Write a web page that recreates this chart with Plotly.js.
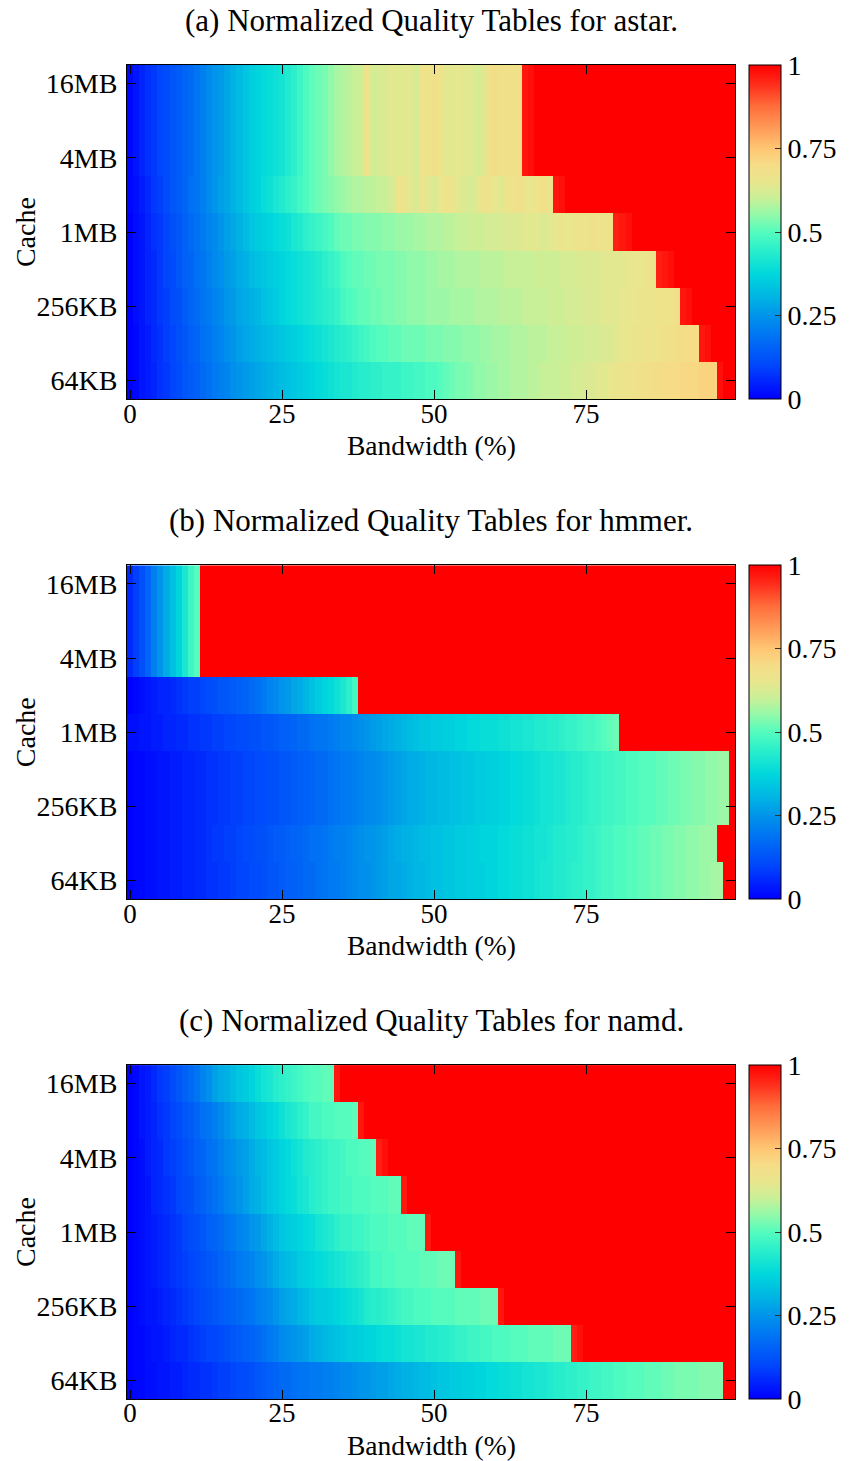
<!DOCTYPE html>
<html>
<head>
<meta charset="utf-8">
<script src="https://cdn.plot.ly/plotly-3.0.1.min.js"></script>
<style>html,body{margin:0;padding:0;background:#fff;}#chart{width:849px;height:1461px;}</style>
</head>
<body>
<div id="chart"></div>
<script>
// ---------- axes / categories ----------
const cacheSizes = ['64KB','128KB','256KB','512KB','1MB','2MB','4MB','8MB','16MB'];
const cacheTicks = ['64KB','256KB','1MB','4MB','16MB'];
const bandwidthPct = [0,1,2,3,4,5,6,7,8,9,10,11,12,13,14,15,16,17,18,19,20,21,22,23,24,25,26,27,28,29,30,31,32,33,34,35,36,37,38,39,40,41,42,43,44,45,46,47,48,49,50,51,52,53,54,55,56,57,58,59,60,61,62,63,64,65,66,67,68,69,70,71,72,73,74,75,76,77,78,79,80,81,82,83,84,85,86,87,88,89,90,91,92,93,94,95,96,97,98,99];
const bwTicks = [0,25,50,75];
const cbTickVals = [0,0.25,0.5,0.75,1];
const cbTickText = ['0','0.25','0.5','0.75','1'];
const panelTitles = ['(a) Normalized Quality Tables for astar.','(b) Normalized Quality Tables for hmmer.','(c) Normalized Quality Tables for namd.'];
const xTitle = 'Bandwidth (%)';
const yTitle = 'Cache';

// ---------- (a) astar : normalized quality in percent, one array per cache size ----------
const astar16MB = [1,3,5,7,8,10,11,13,14,16, 17,19,21,23,25,26,28,30,32,34, 36,37,38,39,40,41,43,45,47,49, 51,52,53,55,57,58,59,60,61,67, 62,62,63,64,64,64,64,62,67,67, 68,67,64,64,65,64,64,62,63,68, 69,68,68,68,68,97,98,100,100,100, 100,100,100,100,100,100,100,100,100,100, 100,100,100,100,100,100,100,100,100,100, 100,100,100,100,100,100,100,100,100,100];
const astar8MB = [1,3,5,7,8,10,11,13,14,16, 17,19,21,23,25,26,28,30,32,34, 36,37,38,39,40,41,43,45,47,49, 51,52,53,55,57,58,59,60,61,67, 62,62,63,64,64,64,64,62,67,67, 68,67,64,64,65,64,64,62,63,68, 69,68,68,68,68,97,98,100,100,100, 100,100,100,100,100,100,100,100,100,100, 100,100,100,100,100,100,100,100,100,100, 100,100,100,100,100,100,100,100,100,100];
const astar4MB = [1,3,5,7,8,10,11,13,14,16, 17,19,21,23,25,26,28,30,32,34, 36,37,38,39,40,41,43,45,47,49, 51,52,53,55,57,58,59,60,61,67, 62,62,63,64,64,64,64,62,67,67, 68,67,64,64,65,64,64,62,63,68, 69,68,68,68,68,97,98,100,100,100, 100,100,100,100,100,100,100,100,100,100, 100,100,100,100,100,100,100,100,100,100, 100,100,100,100,100,100,100,100,100,100];
const astar2MB = [1,2,4,6,8,9,11,13,14,16, 18,19,21,23,25,27,28,30,32,34, 36,37,39,40,42,43,45,46,48,49, 51,52,53,54,55,56,57,58,58,59, 59,60,60,62,67,66,64,63,66,64, 63,65,67,66,64,63,62,64,66,67, 65,64,66,67,68,66,65,67,68,66, 97,98,100,100,100,100,100,100,100,100, 100,100,100,100,100,100,100,100,100,100, 100,100,100,100,100,100,100,100,100,100];
const astar1MB = [0,2,3,5,7,8,10,12,13,15, 17,18,20,22,23,25,27,28,30,32, 34,35,36,37,38,39,40,42,43,45, 46,47,48,49,51,52,52,53,53,54, 54,54,55,55,56,56,56,57,57,58, 58,58,59,59,60,60,61,61,61,62, 62,62,63,63,63,64,64,64,63,64, 65,66,65,66,67,66,68,67,66,67, 96,97,98,100,100,100,100,100,100,100, 100,100,100,100,100,100,100,100,100,100];
const astar512KB = [0,2,3,5,6,8,10,11,13,15, 16,18,19,21,23,24,26,27,29,30, 32,33,34,35,36,37,38,39,40,41, 42,43,45,46,47,49,50,51,51,52, 52,53,53,53,54,54,55,55,55,56, 56,57,57,57,58,58,58,58,59,59, 59,59,60,60,60,60,60,61,61,61, 61,62,62,62,63,63,63,63,64,64, 64,64,65,65,65,66,66,96,97,98, 100,100,100,100,100,100,100,100,100,100];
const astar256KB = [0,2,3,5,6,8,9,11,12,14, 16,17,19,20,22,23,25,26,28,29, 30,31,33,34,35,37,38,39,40,41, 42,43,44,45,46,48,49,50,51,51, 52,52,53,53,54,54,55,55,55,56, 56,56,56,57,57,57,57,58,58,58, 58,59,59,59,59,60,60,60,60,61, 61,61,62,62,62,63,63,63,64,64, 64,65,65,65,66,66,66,67,67,67, 68,97,98,100,100,100,100,100,100,100];
const astar128KB = [0,1,3,4,6,7,9,10,12,13, 15,16,18,19,21,22,24,25,27,28, 29,30,31,32,33,34,35,36,37,38, 39,40,41,42,43,44,45,46,47,48, 49,50,50,51,51,52,52,52,52,53, 53,53,54,54,54,55,55,55,56,56, 57,57,57,58,58,58,59,59,59,60, 60,60,61,61,61,62,62,62,63,63, 64,65,65,66,66,67,66,67,68,68, 69,69,70,70,97,98,100,100,100,100];
const astar64KB = [0,1,3,4,5,7,8,10,11,13, 14,15,17,18,20,21,22,24,25,26, 27,28,29,30,31,32,33,34,35,36, 37,38,39,40,41,42,42,43,44,44, 45,45,46,46,46,47,47,48,48,49, 49,50,51,52,53,53,54,55,55,56, 56,57,57,58,58,58,59,59,60,60, 60,61,61,62,62,63,63,64,64,65, 66,66,67,67,68,68,69,69,70,70, 70,71,71,71,72,72,72,98,100,100];

// ---------- (b) hmmer ----------
const hmmer16MB = [6,9,12,16,21,25,29,33,37,42, 47,50,100,100,100,100,100,100,100,100, 100,100,100,100,100,100,100,100,100,100, 100,100,100,100,100,100,100,100,100,100, 100,100,100,100,100,100,100,100,100,100, 100,100,100,100,100,100,100,100,100,100, 100,100,100,100,100,100,100,100,100,100, 100,100,100,100,100,100,100,100,100,100, 100,100,100,100,100,100,100,100,100,100, 100,100,100,100,100,100,100,100,100,100];
const hmmer8MB = [6,9,12,16,21,25,29,33,37,42, 47,50,100,100,100,100,100,100,100,100, 100,100,100,100,100,100,100,100,100,100, 100,100,100,100,100,100,100,100,100,100, 100,100,100,100,100,100,100,100,100,100, 100,100,100,100,100,100,100,100,100,100, 100,100,100,100,100,100,100,100,100,100, 100,100,100,100,100,100,100,100,100,100, 100,100,100,100,100,100,100,100,100,100, 100,100,100,100,100,100,100,100,100,100];
const hmmer4MB = [6,9,12,16,21,25,29,33,37,42, 47,50,100,100,100,100,100,100,100,100, 100,100,100,100,100,100,100,100,100,100, 100,100,100,100,100,100,100,100,100,100, 100,100,100,100,100,100,100,100,100,100, 100,100,100,100,100,100,100,100,100,100, 100,100,100,100,100,100,100,100,100,100, 100,100,100,100,100,100,100,100,100,100, 100,100,100,100,100,100,100,100,100,100, 100,100,100,100,100,100,100,100,100,100];
const hmmer2MB = [0,1,2,3,4,5,5,6,7,8, 9,9,10,11,12,13,13,14,15,16, 17,18,20,22,23,25,26,28,29,31, 33,35,37,38,40,42,45,48,100,100, 100,100,100,100,100,100,100,100,100,100, 100,100,100,100,100,100,100,100,100,100, 100,100,100,100,100,100,100,100,100,100, 100,100,100,100,100,100,100,100,100,100, 100,100,100,100,100,100,100,100,100,100, 100,100,100,100,100,100,100,100,100,100];
const hmmer1MB = [2,2,3,3,4,4,5,5,6,6, 7,7,8,8,9,9,10,10,11,11, 12,12,13,13,14,15,15,16,17,17, 18,19,19,20,21,22,22,23,24,25, 26,27,28,29,30,31,32,33,34,34, 35,35,36,36,37,37,38,38,39,39, 39,40,40,41,41,42,42,43,43,44, 44,45,46,46,47,48,48,49,50,51, 52,100,100,100,100,100,100,100,100,100, 100,100,100,100,100,100,100,100,100,100];
const hmmer512KB = [0,1,1,2,2,3,3,4,4,5, 5,6,6,7,7,8,8,9,9,10, 10,11,11,12,12,13,13,14,15,15, 16,17,17,18,19,20,20,21,22,23, 23,24,25,26,27,28,29,29,30,31, 31,32,32,33,33,34,34,35,35,36, 36,37,37,38,38,39,39,40,41,41, 42,42,43,44,44,45,46,46,47,47, 48,48,49,49,50,50,50,51,51,52, 52,53,53,54,54,55,55,56,56,100];
const hmmer256KB = [0,1,1,2,2,3,3,4,4,5, 5,6,6,7,7,8,8,9,9,10, 10,11,11,12,12,13,13,14,15,15, 16,17,17,18,19,20,20,21,22,23, 23,24,25,26,27,28,29,29,30,31, 31,32,32,33,33,34,34,35,35,36, 36,37,37,38,38,39,39,40,41,41, 42,42,43,44,44,45,46,46,47,47, 48,48,49,49,50,50,50,51,51,52, 52,53,53,54,54,55,55,56,56,100];
const hmmer128KB = [0,1,1,2,2,3,3,4,4,5, 5,6,6,7,8,8,9,9,10,11, 11,12,12,13,14,14,15,16,16,17, 18,18,19,20,21,21,22,23,24,25, 25,26,27,28,29,30,30,31,32,32, 33,33,34,34,35,35,36,36,37,37, 37,38,38,39,39,40,40,41,41,42, 43,43,44,44,45,46,46,47,48,48, 49,49,50,50,51,51,52,52,53,53, 54,54,55,55,56,56,56,100,100,100];
const hmmer64KB = [0,1,1,2,2,3,3,4,4,5, 5,6,6,7,7,8,8,9,10,10, 11,11,12,13,13,14,15,15,16,17, 17,18,19,20,20,21,22,23,24,24, 25,26,27,28,28,29,30,31,31,32, 33,33,34,34,35,35,36,36,36,37, 37,38,38,39,39,40,40,41,42,42, 43,43,44,45,45,46,46,47,48,48, 49,49,50,50,51,51,52,52,53,53, 54,54,55,55,56,56,57,57,100,100];

// ---------- (c) namd ----------
const namd16MB = [0,1,3,4,6,8,9,11,13,15, 17,19,22,24,27,29,30,32,34,35, 37,39,41,42,44,45,46,47,48,49, 50,50,51,51,97,100,100,100,100,100, 100,100,100,100,100,100,100,100,100,100, 100,100,100,100,100,100,100,100,100,100, 100,100,100,100,100,100,100,100,100,100, 100,100,100,100,100,100,100,100,100,100, 100,100,100,100,100,100,100,100,100,100, 100,100,100,100,100,100,100,100,100,100];
const namd8MB = [0,1,3,4,5,7,8,10,11,13, 14,16,18,19,21,23,25,27,29,30, 32,34,35,37,38,40,42,43,45,46, 48,48,49,49,50,50,50,51,97,100, 100,100,100,100,100,100,100,100,100,100, 100,100,100,100,100,100,100,100,100,100, 100,100,100,100,100,100,100,100,100,100, 100,100,100,100,100,100,100,100,100,100, 100,100,100,100,100,100,100,100,100,100, 100,100,100,100,100,100,100,100,100,100];
const namd4MB = [0,1,2,4,5,6,8,9,10,12, 13,15,16,18,19,21,23,24,26,27, 29,31,32,34,35,37,38,40,41,43, 44,45,46,47,47,48,49,49,50,50, 51,96,98,100,100,100,100,100,100,100, 100,100,100,100,100,100,100,100,100,100, 100,100,100,100,100,100,100,100,100,100, 100,100,100,100,100,100,100,100,100,100, 100,100,100,100,100,100,100,100,100,100, 100,100,100,100,100,100,100,100,100,100];
const namd2MB = [0,1,2,3,5,6,7,8,10,11, 12,14,15,17,18,20,22,23,25,27, 29,30,32,34,35,37,38,39,41,42, 44,45,46,47,47,48,48,49,49,49, 50,50,50,51,51,97,100,100,100,100, 100,100,100,100,100,100,100,100,100,100, 100,100,100,100,100,100,100,100,100,100, 100,100,100,100,100,100,100,100,100,100, 100,100,100,100,100,100,100,100,100,100, 100,100,100,100,100,100,100,100,100,100];
const namd1MB = [0,1,2,3,4,5,6,7,8,10, 11,12,13,15,16,17,19,20,22,23, 25,26,28,30,32,34,35,36,37,38, 39,41,42,43,45,46,46,47,47,48, 49,49,49,50,50,50,51,51,51,97, 100,100,100,100,100,100,100,100,100,100, 100,100,100,100,100,100,100,100,100,100, 100,100,100,100,100,100,100,100,100,100, 100,100,100,100,100,100,100,100,100,100, 100,100,100,100,100,100,100,100,100,100];
const namd512KB = [0,1,2,3,4,5,6,7,8,9, 10,11,12,13,14,16,17,18,20,21, 22,24,25,27,29,31,32,33,35,36, 37,38,39,40,41,42,43,44,45,46, 48,48,49,49,50,50,50,50,51,51, 51,52,52,52,97,100,100,100,100,100, 100,100,100,100,100,100,100,100,100,100, 100,100,100,100,100,100,100,100,100,100, 100,100,100,100,100,100,100,100,100,100, 100,100,100,100,100,100,100,100,100,100];
const namd256KB = [0,1,2,3,3,4,5,6,7,8, 9,10,11,12,13,14,15,16,17,18, 19,21,22,23,25,27,28,29,31,32, 34,35,35,36,37,38,39,40,41,43, 44,44,45,46,47,48,48,49,49,49, 50,50,50,50,51,51,51,51,52,52, 52,97,100,100,100,100,100,100,100,100, 100,100,100,100,100,100,100,100,100,100, 100,100,100,100,100,100,100,100,100,100, 100,100,100,100,100,100,100,100,100,100];
const namd128KB = [0,1,1,2,3,3,4,5,6,6, 7,8,9,10,10,11,12,13,14,15, 16,17,18,20,21,23,24,25,26,27, 29,30,31,32,33,34,35,35,36,37, 37,38,39,39,40,41,41,42,42,43, 43,44,44,45,46,46,47,47,48,48, 49,49,49,50,50,50,51,51,51,51, 52,52,52,96,98,100,100,100,100,100, 100,100,100,100,100,100,100,100,100,100, 100,100,100,100,100,100,100,100,100,100];
const namd64KB = [0,1,1,2,2,3,3,4,4,5, 6,6,7,7,8,9,9,10,11,11, 12,13,14,15,16,17,17,18,19,19, 20,20,21,21,22,23,23,24,25,25, 26,27,27,28,29,30,30,31,32,32, 33,34,34,35,35,36,36,37,37,38, 38,39,39,40,40,41,41,42,42,43, 44,44,45,45,46,46,47,47,48,48, 49,49,50,50,50,51,51,51,52,52, 53,53,53,53,54,54,54,54,100,100];

// rows ordered bottom (64KB) to top (16MB)
const astarRows = [astar64KB, astar128KB, astar256KB, astar512KB, astar1MB, astar2MB, astar4MB, astar8MB, astar16MB];
const hmmerRows = [hmmer64KB, hmmer128KB, hmmer256KB, hmmer512KB, hmmer1MB, hmmer2MB, hmmer4MB, hmmer8MB, hmmer16MB];
const namdRows  = [namd64KB, namd128KB, namd256KB, namd512KB, namd1MB, namd2MB, namd4MB, namd8MB, namd16MB];

// ---------- styling ----------
const FONT = 'Liberation Serif, Times New Roman, serif';
const colorscale = [
  [0.000,'rgb(0,0,255)'],
  [0.100,'rgb(0,70,252)'],
  [0.200,'rgb(0,122,242)'],
  [0.250,'rgb(0,148,234)'],
  [0.300,'rgb(0,178,228)'],
  [0.375,'rgb(0,216,220)'],
  [0.450,'rgb(45,240,202)'],
  [0.500,'rgb(85,252,190)'],
  [0.550,'rgb(145,250,170)'],
  [0.600,'rgb(200,240,152)'],
  [0.650,'rgb(232,230,142)'],
  [0.700,'rgb(246,220,135)'],
  [0.750,'rgb(255,198,116)'],
  [0.800,'rgb(255,162,92)'],
  [0.875,'rgb(255,110,60)'],
  [0.950,'rgb(255,38,24)'],
  [1.000,'rgb(255,0,0)']
];

const domains = [[0.7495,1.0],[0.3747,0.6250],[0.0,0.2503]];
const datasets = [astarRows, hmmerRows, namdRows];
const PLOT_H = 1334, PLOT_W = 608;

const traces = datasets.map((rows, i) => ({
  type: 'heatmap',
  x: bandwidthPct,
  y: cacheSizes,
  z: rows.map(r => r.map(v => v / 100)),
  xaxis: i === 0 ? 'x' : 'x' + (i + 1),
  yaxis: i === 0 ? 'y' : 'y' + (i + 1),
  zmin: 0, zmax: 1,
  colorscale: colorscale,
  zsmooth: false,
  hoverinfo: 'x+y+z',
  colorbar: {
    x: 1.023, xanchor: 'left',
    y: domains[i][0], yanchor: 'bottom', yref: 'paper',
    len: domains[i][1] - domains[i][0], lenmode: 'fraction',
    thickness: 32, thicknessmode: 'pixels',
    outlinewidth: 1, outlinecolor: 'black',
    tickvals: cbTickVals, ticktext: cbTickText,
    ticks: 'inside', ticklen: 6, tickcolor: '#333', tickwidth: 1,
    ticklabelstandoff: 9,
    tickfont: {family: FONT, size: 28, color: 'black'},
    xpad: 0, ypad: 0
  }
}));

const layout = {
  width: 849, height: 1461,
  margin: {l: 127, r: 114, t: 65, b: 62, pad: 0, autoexpand: false},
  paper_bgcolor: 'white', plot_bgcolor: 'white',
  font: {family: FONT, size: 28, color: 'black'},
  showlegend: false,
  annotations: [],
};

const titleY = [1.0335, 0.6582, 0.2834];
// x-axis title centre, 46 px below each panel's bottom edge
const xTitleY = domains.map(d => d[0] - 46 / PLOT_H);
for (let i = 0; i < 3; i++) {
  const sfx = i === 0 ? '' : String(i + 1);
  layout['xaxis' + sfx] = {
    domain: [0, 1], anchor: 'y' + sfx,
    range: [-0.5, 99.5], tickvals: bwTicks,
    ticks: 'inside', ticklen: 9, tickcolor: 'black', tickwidth: 1,
    showline: true, mirror: 'ticks', linecolor: 'black', linewidth: 1,
    showgrid: false, zeroline: false,
    ticklabelstandoff: -10,
    tickfont: {family: FONT, size: 27, color: 'black'}
  };
  layout['yaxis' + sfx] = {
    domain: domains[i], anchor: 'x' + sfx,
    type: 'category', categoryorder: 'array', categoryarray: cacheSizes,
    range: [-0.5, 8.5], tickvals: cacheTicks,
    ticks: 'inside', ticklen: 9, tickcolor: 'black', tickwidth: 1,
    showline: true, mirror: 'ticks', linecolor: 'black', linewidth: 1,
    showgrid: false, zeroline: false,
    ticklabelstandoff: 3,
    tickfont: {family: FONT, size: 28, color: 'black'}
  };
  layout.annotations.push({
    text: panelTitles[i], xref: 'paper', yref: 'paper',
    x: 0.5, y: titleY[i], xanchor: 'center', yanchor: 'middle',
    showarrow: false, font: {family: FONT, size: 31, color: 'black'}
  });
  layout.annotations.push({
    text: xTitle, xref: 'paper', yref: 'paper',
    x: 0.5, y: xTitleY[i], xanchor: 'center', yanchor: 'middle',
    showarrow: false, font: {family: FONT, size: 27.5, color: 'black'}
  });
  // y-axis title, centred on the panel, rotated
  layout.annotations.push({
    text: yTitle, xref: 'paper', yref: 'paper', textangle: -90,
    x: (25 - 127) / PLOT_W, y: (domains[i][0] + domains[i][1]) / 2,
    xanchor: 'center', yanchor: 'middle',
    showarrow: false, font: {family: FONT, size: 28, color: 'black'}
  });
}

Plotly.newPlot('chart', traces, layout, {staticPlot: true, displayModeBar: false});
</script>
</body>
</html>
